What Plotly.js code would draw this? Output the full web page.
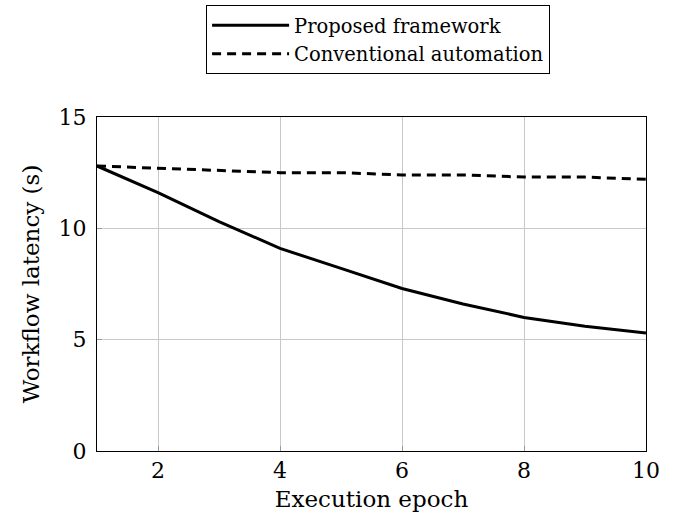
<!DOCTYPE html>
<html>
<head>
<meta charset="utf-8">
<script src="https://cdn.plot.ly/plotly-3.0.1.min.js"></script>
<style>html,body{margin:0;padding:0;background:#fff;}#chart{width:676px;height:521px;}</style>
</head>
<body>
<div id="chart"></div>
<script>
const epochs = [1, 2, 3, 4, 5, 6, 7, 8, 9, 10];
const proposed = [12.8, 11.6, 10.3, 9.1, 8.2, 7.3, 6.6, 6.0, 5.6, 5.3];
const conventional = [12.8, 12.7, 12.6, 12.5, 12.5, 12.4, 12.4, 12.3, 12.3, 12.2];
const seriesNames = ["Proposed framework", "Conventional automation"];
const xTicks = [2, 4, 6, 8, 10];
const yTicks = [0, 5, 10, 15];

const FONT = "'DejaVu Serif', serif";

const traces = [
  {x: epochs, y: proposed, name: seriesNames[0], mode: "lines", type: "scatter",
   line: {color: "#000", width: 3}},
  {x: epochs, y: conventional, name: seriesNames[1], mode: "lines", type: "scatter",
   line: {color: "#000", width: 3, dash: "9px,6px"}}
];

const layout = {
  width: 676, height: 521,
  margin: {l: 97, r: 30, t: 117, b: 70, autoexpand: false},
  paper_bgcolor: "#fff", plot_bgcolor: "#fff",
  font: {family: FONT, color: "#000", size: 20},
  showlegend: true,
  legend: {x: 0.512, xanchor: "center", y: 1.335, yanchor: "top",
    bordercolor: "#000", borderwidth: 1, bgcolor: "#fff",
    font: {family: FONT, size: 19.5}, tracegroupgap: 0, itemwidth: 77},
  xaxis: {range: [1, 10], tickvals: xTicks, ticktext: xTicks.map(String),
    showgrid: true, gridcolor: "#c8c8c8", gridwidth: 1,
    showline: true, linecolor: "#000", linewidth: 1, mirror: true,
    ticks: "inside", ticklen: 5, tickcolor: "#999", zeroline: false,
    tickfont: {family: FONT, size: 22},
    title: {text: "Execution epoch", font: {family: FONT, size: 23}, standoff: 8}},
  yaxis: {range: [0, 15], tickvals: yTicks, ticktext: yTicks.map(String),
    showgrid: true, gridcolor: "#c8c8c8", gridwidth: 1,
    showline: true, linecolor: "#000", linewidth: 1, mirror: true,
    ticks: "inside", ticklen: 5, tickcolor: "#999", zeroline: false,
    ticklabelstandoff: 5,
    tickfont: {family: FONT, size: 22},
    title: {text: "Workflow latency (s)", font: {family: FONT, size: 23}, standoff: 12}}
};

Plotly.newPlot("chart", traces, layout, {displayModeBar: false, staticPlot: true});
</script>
</body>
</html>
